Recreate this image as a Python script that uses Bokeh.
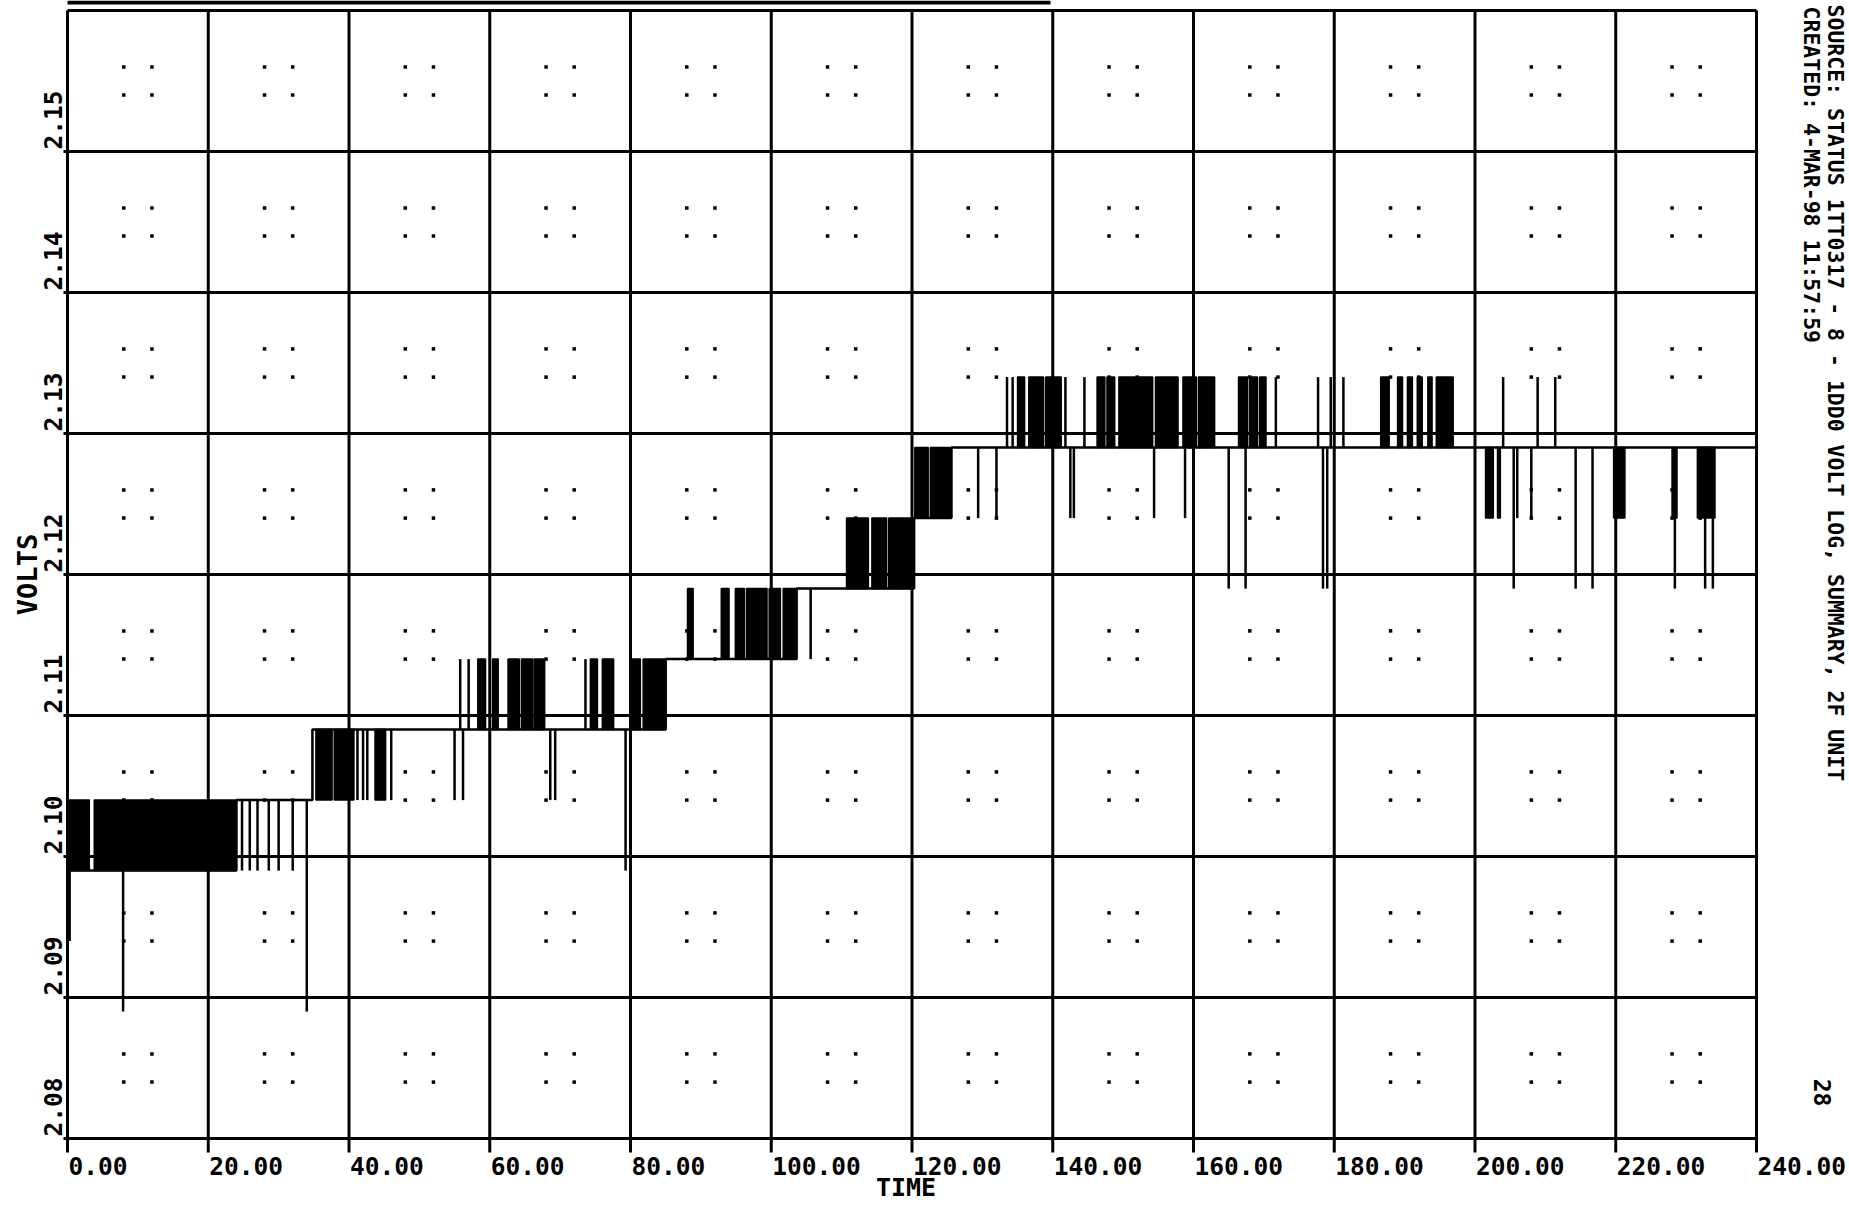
import math
from bokeh.plotting import figure
from bokeh.models import ColumnDataSource, LabelSet, Label, Range1d
from bokeh.core.properties import value
from bokeh.embed import file_html
from bokeh.resources import INLINE

# ---------------- data ----------------
x_ticks = [0, 20, 40, 60, 80, 100, 120, 140, 160, 180, 200, 220, 240]
x_tick_labels = ["0.00", "20.00", "40.00", "60.00", "80.00", "100.00", "120.00",
                 "140.00", "160.00", "180.00", "200.00", "220.00", "240.00"]
y_ticks = [2.08, 2.09, 2.10, 2.11, 2.12, 2.13, 2.14, 2.15]
y_tick_labels = ["2.08", "2.09", "2.10", "2.11", "2.12", "2.13", "2.14", "2.15"]
x_lim = [0, 240]
y_lim = [2.08, 2.16]

# base (step) trace: time, volts
base_t = [0.0, 24.0, 34.8, 85.0, 103.6, 120.3, 125.6, 240.0]
base_v = [2.099, 2.104, 2.109, 2.114, 2.119, 2.124, 2.129, 2.129]

# dense toggling bursts: start time, end time, low level, high level
burst_t0 = [0.0, 3.8, 35.3, 37.9, 43.7, 58.3, 60.4, 62.6, 64.5, 66.3, 74.3, 76.0,
            80.0, 81.8, 88.1, 92.9, 94.9, 96.5, 99.7, 101.7, 110.7, 114.3, 116.7,
            120.4, 122.6, 135.0, 136.6, 139.0, 146.3, 147.7, 149.4, 154.6, 158.5,
            160.7, 166.4, 168.0, 169.4, 186.6, 189.0, 190.4, 191.8, 193.3, 194.5,
            201.5, 203.2, 219.7, 228.0, 231.6]
burst_t1 = [3.1, 24.0, 37.6, 40.7, 45.2, 59.4, 61.2, 64.2, 66.1, 67.8, 75.3, 77.6,
            81.4, 85.0, 88.9, 94.0, 96.2, 99.4, 101.3, 103.6, 113.8, 116.4, 120.2,
            122.3, 125.6, 136.0, 138.7, 141.2, 147.4, 148.8, 154.2, 157.8, 160.4,
            163.0, 167.7, 169.1, 170.3, 187.8, 189.7, 191.1, 192.5, 193.9, 196.9,
            202.6, 203.6, 221.3, 228.7, 234.1]
burst_lo = [2.099, 2.099, 2.104, 2.104, 2.104, 2.109, 2.109, 2.109, 2.109, 2.109, 2.109, 2.109,
            2.109, 2.109, 2.114, 2.114, 2.114, 2.114, 2.114, 2.114, 2.119, 2.119, 2.119,
            2.124, 2.124, 2.129, 2.129, 2.129, 2.129, 2.129, 2.129, 2.129, 2.129,
            2.129, 2.129, 2.129, 2.129, 2.129, 2.129, 2.129, 2.129, 2.129, 2.129,
            2.124, 2.124, 2.124, 2.124, 2.124]
burst_hi = [2.104, 2.104, 2.109, 2.109, 2.109, 2.114, 2.114, 2.114, 2.114, 2.114, 2.114, 2.114,
            2.114, 2.114, 2.119, 2.119, 2.119, 2.119, 2.119, 2.119, 2.124, 2.124, 2.124,
            2.129, 2.129, 2.134, 2.134, 2.134, 2.134, 2.134, 2.134, 2.134, 2.134,
            2.134, 2.134, 2.134, 2.134, 2.134, 2.134, 2.134, 2.134, 2.134, 2.134,
            2.129, 2.129, 2.129, 2.129, 2.129]

# isolated single-sample excursions: time, low level, high level
spike_t = [0.3, 7.9, 24.8, 25.9, 27.0, 28.6, 30.0, 32.0, 34.0,
           41.2, 42.0, 42.6, 46.0, 55.0, 56.2, 55.8, 57.0, 68.6, 69.3, 73.6, 79.3,
           105.6, 129.4, 132.0, 133.5, 134.3, 141.8, 144.5, 142.5, 143.0,
           154.4, 158.8, 165.0, 167.4, 171.7, 177.7, 179.5, 181.3, 178.4, 179.0,
           204.0, 205.5, 206.0, 208.0, 208.9, 211.4, 214.3, 216.7, 228.4, 232.7, 233.8]
spike_lo = [2.094, 2.089, 2.099, 2.099, 2.099, 2.099, 2.099, 2.099, 2.089,
            2.104, 2.104, 2.104, 2.104, 2.104, 2.104, 2.109, 2.109, 2.104, 2.104, 2.109, 2.099,
            2.114, 2.124, 2.124, 2.129, 2.129, 2.129, 2.129, 2.124, 2.124,
            2.124, 2.124, 2.119, 2.119, 2.129, 2.129, 2.129, 2.129, 2.119, 2.119,
            2.129, 2.119, 2.124, 2.124, 2.129, 2.129, 2.119, 2.119, 2.119, 2.119, 2.119]
spike_hi = [2.099, 2.099, 2.104, 2.104, 2.104, 2.104, 2.104, 2.104, 2.104,
            2.109, 2.109, 2.109, 2.109, 2.109, 2.109, 2.114, 2.114, 2.109, 2.109, 2.114, 2.109,
            2.119, 2.129, 2.129, 2.134, 2.134, 2.134, 2.134, 2.129, 2.129,
            2.129, 2.129, 2.129, 2.129, 2.134, 2.134, 2.134, 2.134, 2.129, 2.129,
            2.134, 2.129, 2.129, 2.129, 2.134, 2.134, 2.129, 2.129, 2.129, 2.129, 2.129]

x_title = "TIME"
y_title = "VOLTS"
created_text = "CREATED: 4-MAR-98 11:57:59"
header_text = "SOURCE: STATUS 1TT0317 - 8 - 1DD0     VOLT LOG, SUMMARY, 2F UNIT"
page_text = "28"

# ---------------- layout (pixels) ----------------
W, H = 1849, 1205
PLOT_L, PLOT_R, PLOT_T, PLOT_B = 67, 1756, 10, 1138
px_t = (PLOT_R - PLOT_L) / (x_lim[1] - x_lim[0])
px_v = (PLOT_B - PLOT_T) / (y_lim[1] - y_lim[0])
def dt(px):
    return px / px_t
def dv(px):
    return px / px_v

FONT_NAME = "DejaVu Sans Mono"
FONT = value(FONT_NAME)

p = figure(width=W, height=H, output_backend="svg", toolbar_location=None,
           x_range=Range1d(x_lim[0] - dt(PLOT_L), x_lim[1] + dt(W - PLOT_R)),
           y_range=Range1d(y_lim[0] - dv(H - PLOT_B), y_lim[1] + dv(PLOT_T)),
           x_axis_location=None, y_axis_location=None,
           min_border=0, min_border_left=0, min_border_right=0,
           min_border_top=0, min_border_bottom=0)
p.grid.visible = False
p.outline_line_color = None
p.background_fill_color = "white"
p.border_fill_color = "white"

# faint graph-paper dots inside each cell
dot_x, dot_y = [], []
for i in range(len(x_ticks) - 1):
    for j in range(len(y_ticks)):
        for fx in (0.4, 0.6):
            for fy in (0.4, 0.6):
                dot_x.append(x_ticks[i] + (x_ticks[1] - x_ticks[0]) * fx)
                dot_y.append(y_ticks[j] + (y_ticks[1] - y_ticks[0]) * fy)
p.scatter(dot_x, dot_y, marker="square", size=3.5, color="black", line_color=None)

# grid lines (plotter grid), with small outward ticks
p.segment(x0=x_ticks, x1=x_ticks, y0=y_lim[0] - dv(14), y1=y_lim[1],
          line_color="black", line_width=3)
p.segment(x0=x_lim[0] - dt(4), x1=x_lim[1], y0=y_ticks, y1=y_ticks,
          line_color="black", line_width=3)
p.segment(x0=[x_lim[0]], x1=[x_lim[1]], y0=[y_lim[1]], y1=[y_lim[1]],
          line_color="black", line_width=3)
# bottom edge of the (cut-off) header box above the plot
p.segment(x0=[x_lim[0]], x1=[x_lim[0] + dt(983)], y0=[y_lim[1] + dv(8)], y1=[y_lim[1] + dv(8)],
          line_color="black", line_width=4)

# trace
bs = ColumnDataSource(dict(t0=burst_t0, t1=burst_t1, lo=burst_lo, hi=burst_hi))
p.quad(left="t0", right="t1", bottom="lo", top="hi", source=bs,
       fill_color="black", line_color="black", line_width=1.5)
ss = ColumnDataSource(dict(t=spike_t, lo=spike_lo, hi=spike_hi))
p.segment(x0="t", x1="t", y0="lo", y1="hi", source=ss, line_color="black", line_width=2.5)
p.step(base_t, base_v, mode="after", line_color="black", line_width=2.5)

# tick labels
xs = ColumnDataSource(dict(t=x_ticks, lab=x_tick_labels))
p.add_layout(LabelSet(x="t", y=y_lim[0], text="lab", source=xs, x_offset=1, y_offset=-36,
                      text_align="left", text_baseline="alphabetic", text_font=FONT,
                      text_font_style="bold", text_font_size="24.5px", text_color="black"))
ys = ColumnDataSource(dict(v=y_ticks, lab=y_tick_labels))
p.add_layout(LabelSet(x=x_lim[0], y="v", text="lab", source=ys, x_offset=-6, y_offset=2,
                      angle=math.pi / 2, text_align="left", text_baseline="alphabetic",
                      text_font=FONT, text_font_style="bold", text_font_size="24.5px",
                      text_color="black"))

p.add_layout(Label(x=x_lim[0], y=2.12, text=y_title, x_offset=-40, angle=math.pi / 2,
                   text_align="center", text_baseline="alphabetic", text_font=FONT_NAME,
                   text_font_style="bold", text_font_size="27px", text_color="black"))
p.add_layout(Label(x=(x_lim[0] + x_lim[1]) / 2, y=y_lim[0], text=x_title, x_offset=-6,
                   y_offset=-49, text_align="center", text_baseline="alphabetic",
                   text_font=FONT_NAME, text_font_style="bold", text_font_size="25px",
                   text_color="black"))

# right margin annotations (rotated, reading top to bottom)
p.add_layout(Label(x=x_lim[1], y=y_lim[1], text=created_text, x_offset=55, y_offset=4,
                   angle=-math.pi / 2, text_align="left", text_baseline="alphabetic",
                   text_font=FONT_NAME, text_font_style="bold", text_font_size="21.5px",
                   text_color="black"))
p.add_layout(Label(x=x_lim[1], y=y_lim[1], text=header_text, x_offset=79, y_offset=6,
                   angle=-math.pi / 2, text_align="left", text_baseline="alphabetic",
                   text_font=FONT_NAME, text_font_style="bold", text_font_size="21.5px",
                   text_color="black"))
p.add_layout(Label(x=x_lim[1], y=y_lim[0], text=page_text, x_offset=66, y_offset=46,
                   angle=-math.pi / 2, text_align="center", text_baseline="middle",
                   text_font=FONT_NAME, text_font_style="bold", text_font_size="23px",
                   text_color="black"))

open("out.html", "w").write(file_html(p, INLINE))
